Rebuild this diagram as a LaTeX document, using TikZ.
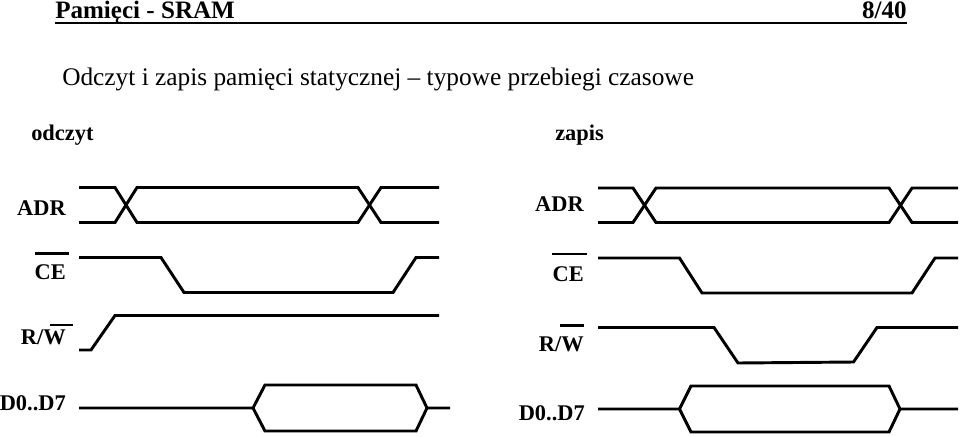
\documentclass[tikz,border=0pt]{standalone}
\usepackage{fontspec}
\setmainfont{Liberation Serif}
\usetikzlibrary{
    calc
}
\tikzset{
    wave/.style={line width=2.2pt,line join=miter},
    bar/.style={line width=1.6pt},
    heading/.style={anchor=base west,inner sep=0pt,font=\fontsize{18.8}{20}\selectfont\bfseries},
    sublabel/.style={anchor=base west,inner sep=0pt,font=\fontsize{16.8}{18}\selectfont\bfseries},
    siglabel/.style={anchor=base east,inner sep=0pt,font=\fontsize{16.8}{18}\selectfont\bfseries}
}

\begin{document}
\begin{tikzpicture}[x=0.75pt,y=-0.75pt]

\useasboundingbox (0,0) rectangle (960,436);

% Header
\node[heading] (title) at (55,18) {Pamięci - SRAM};
\node[heading,anchor=base east] (page) at (907,18) {8/40};
\draw[line width=2pt] (55,23) -- (907,23);

% Subtitle
\node[anchor=base west,inner sep=0pt,font=\fontsize{19}{20}\selectfont] (subtitle) at (62,85)
    {Odczyt i zapis pamięci statycznej – typowe przebiegi czasowe};
\node[sublabel] (odczyt) at (31,140) {odczyt};
\node[sublabel] (zapis) at (555,140) {zapis};

% Read cycle labels
\node[siglabel] (adrR) at (66,215) {ADR};
\node[siglabel] (ceR) at (66,279) {CE};
\node[siglabel] (rwR) at (66,344) {R/W};
\node[siglabel] (dataR) at (66,410) {D0..D7};
\draw[bar] (35,253.5) -- (69,253.5);
\draw[bar] (50,325) -- (73,325);

% Read cycle
\draw[wave] (79,187.5) -- (115,187.5) -- (137,222.5) -- (358,222.5) -- (381,187.5) -- (439,187.5);
\draw[wave] (79,222.5) -- (115,222.5) -- (137,187.5) -- (358,187.5) -- (381,222.5) -- (439,222.5);
\draw[wave] (79,257.5) -- (161,257.5) -- (184,292.5) -- (393,292.5) -- (416,257.5) -- (439,257.5);
\draw[wave] (79,350) -- (91,350) -- (115,315.5) -- (439,315.5);
\draw[wave] (79,408) -- (253,408) -- (265,385) -- (416,385) -- (427,408) -- (450,408);
\draw[wave] (253,408) -- (265,431) -- (416,431) -- (427,408);

% Write cycle labels
\node[siglabel] (adrW) at (584,211) {ADR};
\node[siglabel] (ceW) at (584,281) {CE};
\node[siglabel] (rwW) at (584,351) {R/W};
\node[siglabel] (dataW) at (585,420) {D0..D7};
\draw[bar] (552,253.7) -- (587,253.7);
\draw[bar] (560,325.5) -- (584,325.5);

% Write cycle
\draw[wave] (598,188) -- (633,188) -- (656,222.5) -- (889,222.5) -- (912,188) -- (958,188);
\draw[wave] (598,222.5) -- (633,222.5) -- (656,188) -- (889,188) -- (912,222.5) -- (958,222.5);
\draw[wave] (598,258) -- (679.5,258) -- (702,293) -- (912,293) -- (935,258) -- (958,258);
\draw[wave] (598,327.5) -- (714,327.5) -- (738,363) -- (853.5,362) -- (877,327.5) -- (958,327.5);
\draw[wave] (598,409) -- (679.5,409) -- (691,386) -- (889,386) -- (900,409) -- (958,409);
\draw[wave] (679.5,409) -- (691,432) -- (889,432) -- (900,409);

\end{tikzpicture}
\end{document}
